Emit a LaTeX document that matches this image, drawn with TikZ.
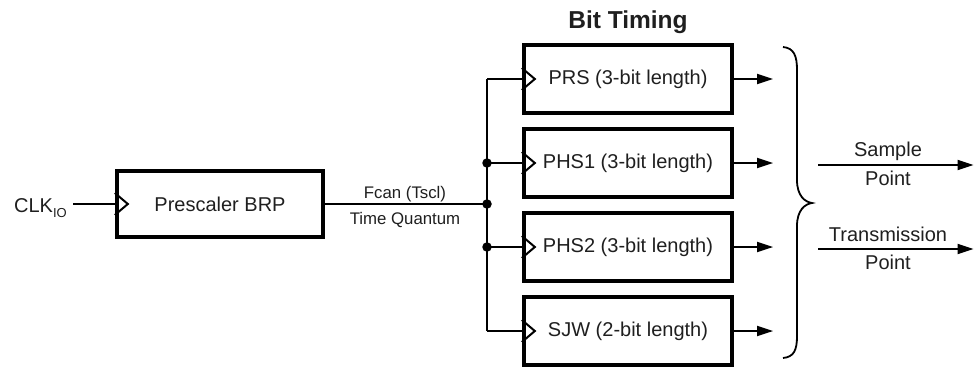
\documentclass[tikz,border=0pt]{standalone}
\usepackage{fontspec}
\setmainfont{Liberation Sans}
\usetikzlibrary{arrows.meta}
\begin{document}
\begin{tikzpicture}[x=1pt,y=1pt,
  blk/.style={draw, line width=3.8pt, minimum width=208.5pt, minimum height=68.5pt, inner sep=0pt, font=\fontsize{20}{24}\selectfont, text=black!88},
  wire/.style={line width=1.8pt},
  outarr/.style={wire, -{Triangle[length=16pt,width=10pt]}},
  lbl/.style={font=\fontsize{20}{24}\selectfont, inner sep=0pt, text=black!88},
  small/.style={font=\fontsize{16.8}{20}\selectfont, inner sep=0pt, text=black!88},
  dot/.style={circle, fill, inner sep=0pt, minimum size=9.5pt},
  clk/.style={line width=2pt, line join=miter}
]
\useasboundingbox (0,0) rectangle (974,368);

% blocks
\node[blk, minimum width=206.5pt, minimum height=66.5pt] (pre) at (220,164) {Prescaler BRP};
\node[blk] (prs)  at (628,289) {PRS (3-bit length)};
\node[blk] (phs1) at (628,205) {PHS1 (3-bit length)};
\node[blk] (phs2) at (628,121) {PHS2 (3-bit length)};
\node[blk] (sjw)  at (628,37)  {SJW (2-bit length)};

% clock triangles
\foreach \b in {pre,prs,phs1,phs2,sjw}{
  \draw[clk] ([yshift=11pt]\b.west) -- ++(13,-11) -- ++(-13,-11);
}

% title
\node[anchor=base, inner sep=0pt, font=\bfseries\fontsize{24.5}{28}\selectfont, text=black!88] (title) at (628,340) {Bit Timing};

% CLK input
\node[lbl, anchor=base east] (clkio) at (67,156) {CLK\raisebox{-5pt}{\fontsize{13}{14}\selectfont IO}};
\coordinate (clkstart) at (73,164);
\draw[wire] (clkstart) -- (pre.west);

% Fcan line and distribution
\coordinate (jf) at (487,164);
\draw[wire] (pre.east) -- (jf);
\node[small, anchor=base] (fcan) at (405,170) {Fcan (Tscl)};
\node[small, anchor=base] (tq) at (405,144) {Time Quantum};
\draw[wire] (jf |- prs.west) -- (jf |- sjw.west);
\foreach \b in {prs,phs1,phs2,sjw}{
  \draw[wire] (jf |- \b.west) -- (\b.west);
}
\node[dot] (d1) at (jf |- phs1.west) {};
\node[dot] (d2) at (jf) {};
\node[dot] (d3) at (jf |- phs2.west) {};

% outputs
\foreach \b in {prs,phs1,phs2,sjw}{
  \draw[outarr] (\b.east) -- ++(39,0);
}

% brace
\draw[wire] (783,321) .. controls (794,320) and (797,312) .. (797,298)
  -- (797,188) .. controls (797,172) and (805,166) .. (812,165)
  .. controls (805,164) and (797,158) .. (797,142)
  -- (797,32) .. controls (797,18) and (794,11) .. (783,10);

% result arrows
\coordinate (sa) at (818,203);
\coordinate (sb) at (973.5,203);
\coordinate (ta) at (818,119);
\coordinate (tb) at (973.5,119);
\draw[outarr] (sa) -- (sb);
\draw[outarr] (ta) -- (tb);
\node[lbl, anchor=base] (samp) at (888,212) {Sample};
\node[lbl, anchor=base] (sp) at (888,183) {Point};
\node[lbl, anchor=base] (trans) at (888,127) {Transmission};
\node[lbl, anchor=base] (tp) at (888,99) {Point};
\end{tikzpicture}
\end{document}
